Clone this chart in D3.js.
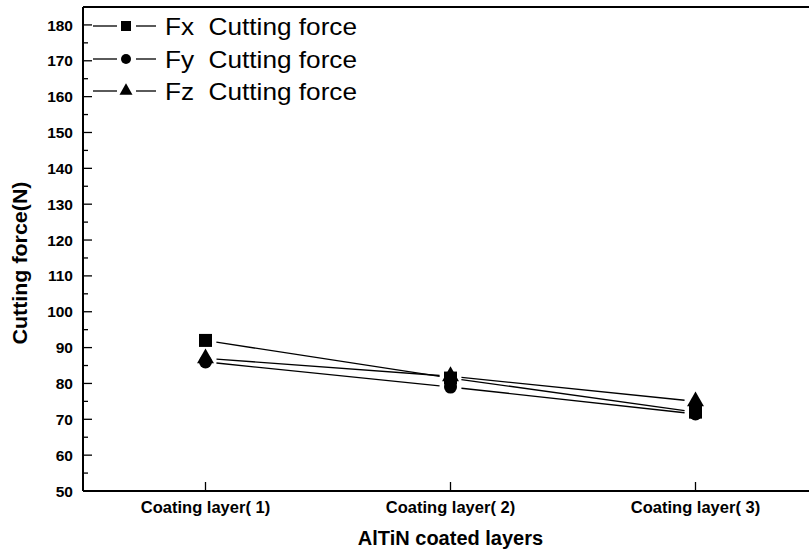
<!DOCTYPE html>
<html>
<head>
<meta charset="utf-8">
<script src="https://cdn.jsdelivr.net/npm/d3@7"></script>
<style>
  html, body { margin: 0; padding: 0; background: #fff; }
  svg { display: block; font-family: Arial, "Liberation Sans", sans-serif; }
</style>
</head>
<body>
<svg id="chart" width="809" height="556"></svg>
<script>
// Cutting force (N) measured for each AlTiN coating layer
const categories = ["Coating layer( 1)", "Coating layer( 2)", "Coating layer( 3)"];
const seriesNames = ["Fx  Cutting force", "Fy  Cutting force", "Fz  Cutting force"];
const fx = [92, 81.5, 72];
const fy = [86, 79, 71.5];
const fz = [87, 82, 75];
const yTicks = [50, 60, 70, 80, 90, 100, 110, 120, 130, 140, 150, 160, 170, 180];
const xTitle = "AlTiN coated layers";
const yTitle = "Cutting force(N)";

const series = [
  { name: seriesNames[0], values: fx, symbol: "square" },
  { name: seriesNames[1], values: fy, symbol: "circle" },
  { name: seriesNames[2], values: fz, symbol: "triangle" }
];

const svg = d3.select("#chart");
const plot = { left: 83, top: 7, right: 818, bottom: 491 };

const x = d3.scaleLinear().domain([0.5, 3.5]).range([plot.left, plot.right]);
const y = d3.scaleLinear().domain([50, 185]).range([plot.bottom, plot.top]);

// marker shapes
function symbolPath(kind, s) {
  if (kind === "square") {
    return `M${-s/2},${-s/2}h${s}v${s}h${-s}Z`;
  }
  if (kind === "circle") {
    const r = s / 2;
    return `M${-r},0a${r},${r} 0 1,0 ${2*r},0a${r},${r} 0 1,0 ${-2*r},0Z`;
  }
  // triangle with centroid at origin
  const h = s * 1.15, w = s * 1.3;
  return `M0,${-2*h/3}L${w/2},${h/3}L${-w/2},${h/3}Z`;
}

// frame (top and right edges)
svg.append("path")
  .attr("d", `M${plot.left},${plot.top}H${plot.right}V${plot.bottom}`)
  .attr("fill", "none").attr("stroke", "#000").attr("stroke-width", 2);

// y axis with inward ticks
const yMinor = d3.range(55, 185, 10);
const gy = svg.append("g").attr("transform", `translate(${plot.left},0)`);
gy.append("line").attr("x1", 0).attr("x2", 0).attr("y1", plot.top).attr("y2", plot.bottom)
  .attr("stroke", "#000").attr("stroke-width", 2);
gy.selectAll("line.major").data(yTicks).join("line").attr("class", "major")
  .attr("x1", 0).attr("x2", 9).attr("y1", d => y(d)).attr("y2", d => y(d))
  .attr("stroke", "#000").attr("stroke-width", 1.3);
gy.selectAll("line.minor").data(yMinor).join("line").attr("class", "minor")
  .attr("x1", 0).attr("x2", 5).attr("y1", d => y(d)).attr("y2", d => y(d))
  .attr("stroke", "#000").attr("stroke-width", 1.3);
gy.selectAll("text").data(yTicks).join("text")
  .attr("x", -10).attr("y", d => y(d)).attr("dy", "0.36em")
  .attr("text-anchor", "end").attr("font-weight", "bold").attr("font-size", 15.5)
  .text(d => d);

// x axis with inward ticks
const gx = svg.append("g").attr("transform", `translate(0,${plot.bottom})`);
gx.append("line").attr("x1", plot.left).attr("x2", plot.right).attr("y1", 0).attr("y2", 0)
  .attr("stroke", "#000").attr("stroke-width", 2);
gx.selectAll("line.major").data(categories).join("line").attr("class", "major")
  .attr("x1", (d, i) => x(i + 1)).attr("x2", (d, i) => x(i + 1)).attr("y1", 0).attr("y2", -9)
  .attr("stroke", "#000").attr("stroke-width", 1.3);
gx.selectAll("text").data(categories).join("text")
  .attr("x", (d, i) => x(i + 1)).attr("y", 22)
  .attr("text-anchor", "middle").attr("font-weight", "bold").attr("font-size", 16.5)
  .text(d => d);

// axis titles
svg.append("text").attr("x", x(2)).attr("y", 545)
  .attr("text-anchor", "middle").attr("font-weight", "bold").attr("font-size", 20)
  .text(xTitle);
svg.append("text")
  .attr("transform", `translate(27,263) rotate(-90)`)
  .attr("text-anchor", "middle").attr("font-weight", "bold").attr("font-size", 19.5)
  .attr("textLength", 163).attr("lengthAdjust", "spacingAndGlyphs")
  .text(yTitle);

// series lines, with small gaps around the markers
const gap = 11;
const lines = svg.append("g");
series.forEach(s => {
  for (let i = 0; i < s.values.length - 1; i++) {
    const x0 = x(i + 1), y0 = y(s.values[i]);
    const x1 = x(i + 2), y1 = y(s.values[i + 1]);
    const len = Math.hypot(x1 - x0, y1 - y0);
    const ux = (x1 - x0) / len, uy = (y1 - y0) / len;
    lines.append("line")
      .attr("x1", x0 + ux * gap).attr("y1", y0 + uy * gap)
      .attr("x2", x1 - ux * gap).attr("y2", y1 - uy * gap)
      .attr("stroke", "#000").attr("stroke-width", 1.4);
  }
});

// markers
const markers = svg.append("g");
series.forEach(s => {
  markers.selectAll(null).data(s.values).join("path")
    .attr("transform", (d, i) => `translate(${x(i + 1)},${y(d)})`)
    .attr("d", symbolPath(s.symbol, 13))
    .attr("fill", "#000");
});

// legend
const legend = svg.append("g");
const legendRows = [26, 59, 91];
series.forEach((s, i) => {
  const row = legend.append("g").attr("transform", `translate(0,${legendRows[i]})`);
  row.append("line").attr("x1", 93).attr("x2", 117).attr("y1", 0).attr("y2", 0)
    .attr("stroke", "#000").attr("stroke-width", 1.3);
  row.append("line").attr("x1", 136).attr("x2", 156).attr("y1", 0).attr("y2", 0)
    .attr("stroke", "#000").attr("stroke-width", 1.3);
  row.append("path").attr("transform", "translate(126,0)")
    .attr("d", symbolPath(s.symbol, 10)).attr("fill", "#000");
  row.append("text").attr("x", 165).attr("y", 0).attr("dy", "0.36em")
    .attr("font-size", 24)
    .attr("textLength", 192).attr("lengthAdjust", "spacingAndGlyphs")
    .attr("xml:space", "preserve")
    .style("white-space", "pre")
    .text(s.name);
});
</script>
</body>
</html>
